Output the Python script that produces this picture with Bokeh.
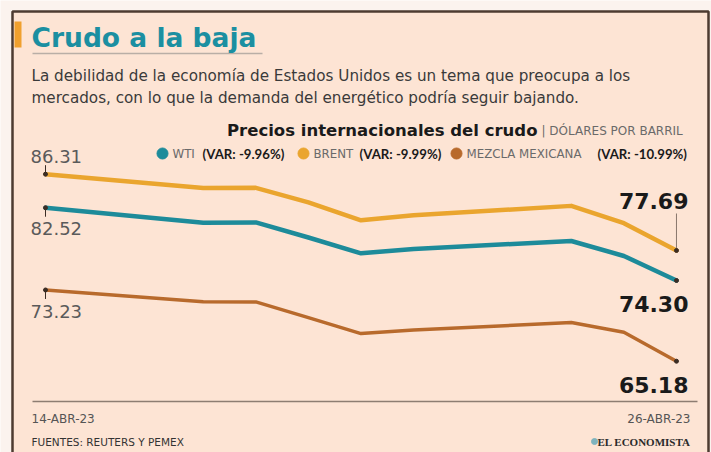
import pandas as pd
from bokeh.plotting import figure
from bokeh.models import Range1d, Label
from bokeh.embed import file_html
from bokeh.resources import INLINE

# ---------------- data ----------------
dates = ["2023-04-14", "2023-04-17", "2023-04-18", "2023-04-19", "2023-04-20",
         "2023-04-21", "2023-04-24", "2023-04-25", "2023-04-26"]
wti = [82.52, 80.83, 80.86, 79.16, 77.37, 77.87, 78.76, 77.07, 74.30]
brent = [86.31, 84.76, 84.77, 83.12, 81.10, 81.66, 82.73, 80.77, 77.69]
mezcla = [73.23, 71.90, 71.88, 70.10, 68.30, 68.70, 69.55, 68.45, 65.18]
series_names = ["WTI", "BRENT", "MEZCLA MEXICANA"]
series_colors = ["#1d8b9a", "#eaa52e", "#b86a2c"]
date_labels = ["14-ABR-23", "26-ABR-23"]
title = "Crudo a la baja"
subtitle = ["La debilidad de la economía de Estados Unidos es un tema que preocupa a los",
            "mercados, con lo que la demanda del energético podría seguir bajando."]
chart_title = "Precios internacionales del crudo"
unit_label = "| DÓLARES POR BARRIL"
source_label = "FUENTES: REUTERS Y PEMEX"
brand_label = "EL ECONOMISTA"

# ---------------- setup ----------------
W, H = 711, 452
d = pd.to_datetime(dates)
days = [(x - d[0]).days for x in d]
Y0, Y1 = 54.87, 105.93
ppu = H / (Y1 - Y0)  # pixels per price unit

BG = "#fbf3ee"
PANEL = "#fde4d4"
SANS = "DejaVu Sans"
HEAVY = "DejaVu Sans"
LATO = "Lato"

p = figure(width=W, height=H, output_backend="svg", toolbar_location=None,
           x_range=Range1d(-0.856, 12.666), y_range=Range1d(Y0, Y1),
           x_axis_location=None, y_axis_location=None, min_border=0)
p.extra_x_ranges = {"px": Range1d(0, W)}
p.extra_y_ranges = {"px": Range1d(H, 0)}
p.grid.visible = False
p.outline_line_color = None
p.background_fill_color = BG
p.border_fill_color = BG

PX = dict(x_range_name="px", y_range_name="px")

# panel with frame
p.quad(left=[12], right=[708], top=[11], bottom=[470], fill_color=PANEL,
       line_color="#4d3b31", line_width=2.5, **PX)
# orange tag
p.quad(left=[14], right=[21], top=[21], bottom=[47], fill_color="#f0a02e",
       line_color=None, **PX)
# title underline
p.segment(x0=[32], y0=[53], x1=[262], y1=[53], line_color="#b9aea6", line_width=1.5, **PX)
# bottom rule
p.segment(x0=[32], y0=[401], x1=[697], y1=[401], line_color="#8d7d72", line_width=1.5, **PX)


def add_text(x, y, text, size, color, font=SANS, style="normal", align="left"):
    p.add_layout(Label(x=x, y=y, text=text, text_font=font, text_font_size=f"{size}px",
                       text_color=color, text_font_style=style, text_align=align,
                       text_baseline="middle", **PX))


add_text(31, 37, title, 26.5, "#1b8fa1", font=HEAVY, style="bold")
add_text(31, 75, subtitle[0], 15.2, "#3a3a3a")
add_text(31, 97, subtitle[1], 15.2, "#3a3a3a")
add_text(537, 130, chart_title, 16.5, "#1a1a1a", font=HEAVY, style="bold", align="right")
add_text(541, 130, unit_label, 12, "#6a6a6a")

# legend
all_series = [wti, brent, mezcla]
dot_x = [162, 303, 456]
var_x = [202, 359, 597]
p.scatter(x=dot_x, y=[153] * 3, size=11, color=series_colors, **PX)
for name, vals, dx, vx in zip(series_names, all_series, dot_x, var_x):
    var = (vals[-1] / vals[0] - 1) * 100
    add_text(dx + 10, 153, name, 11.8, "#6a6a6a")
    add_text(vx, 153, f"(VAR: {var:.2f}%)", 13.2, "#1a1a1a", font=LATO, style="bold")

# series lines
widths = [4.5, 4.5, 3.5]
for vals, c, w in zip(all_series, series_colors, widths):
    p.line(days, vals, line_color=c, line_width=w, line_join="round", line_cap="round")

# start ticks and end connector
starts = [wti[0], brent[0], mezcla[0]]
tick_dir = [-1, 1, -1]
p.segment(x0=[days[0]] * 3, y0=starts, x1=[days[0]] * 3,
          y1=[s + t * 9 / ppu for s, t in zip(starts, tick_dir)],
          line_color="#3b2d25", line_width=1)
p.segment(x0=[days[-1]], y0=[brent[-1]], x1=[days[-1]], y1=[brent[-1] + 37 / ppu],
          line_color="#6b5b52", line_width=0.8)
p.scatter(x=[days[0]] * 3 + [days[-1]] * 3, y=starts + [wti[-1], brent[-1], mezcla[-1]],
          size=4, color="#3b2d25")

# value labels
for v, off in zip(starts, [-21, 18, -22]):
    p.add_layout(Label(x=days[0], y=v, text=f"{v:.2f}", x_offset=-15, y_offset=off,
                       text_font=SANS, text_font_size="18px", text_color="#5a5a5a",
                       text_align="left", text_baseline="middle"))
ends = [wti[-1], brent[-1], mezcla[-1]]
for v, off in zip(ends, [-24, 49, -24]):
    p.add_layout(Label(x=days[-1], y=v, text=f"{v:.2f}", x_offset=12, y_offset=off,
                       text_font=HEAVY, text_font_size="22px", text_color="#1a1a1a",
                       text_font_style="bold", text_align="right", text_baseline="middle"))

# bottom texts
add_text(31, 418, date_labels[0], 12, "#555555")
add_text(690, 418, date_labels[1], 12, "#555555", align="right")
add_text(31, 441, source_label, 10.5, "#333333")
p.scatter(x=[594], y=[441], size=6, color="#7fb3bd", **PX)
add_text(690, 441, brand_label, 11, "#2a2a2a", font="Liberation Serif",
         style="bold", align="right")

open("out.html", "w").write(file_html(p, INLINE))
